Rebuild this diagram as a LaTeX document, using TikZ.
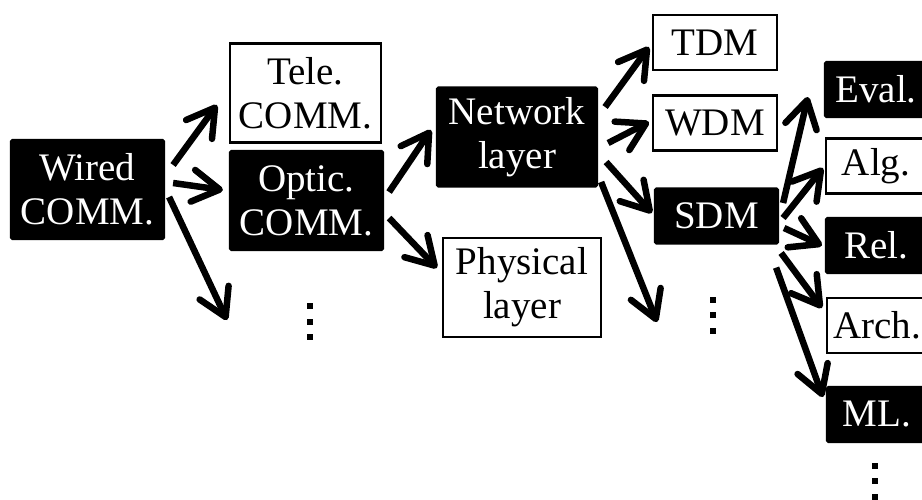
\documentclass[tikz,border=0pt]{standalone}
\usepackage{fontspec}
\setmainfont{Liberation Serif}
\usetikzlibrary{arrows.meta}
\begin{document}
\begin{tikzpicture}[x=1pt,y=-1pt,
  box/.style={draw=black, line width=2.2pt, inner sep=0pt, align=center,
    font=\fontsize{39}{44}\selectfont},
  dark/.style={box, fill=black, text=white, rounded corners=1.5pt},
  light/.style={box, fill=white},
  big/.style={minimum width=#1, minimum height=99pt},
  small/.style={minimum width=#1, minimum height=55pt},
  link/.style={line width=6.5pt, -{Straight Barb[length=27pt,width=32pt,round]}},
  vdots/.pic={\foreach \k in {-1,0,1} \fill (-3,\k*15.5-3) rectangle ++(6,6);}
]
\useasboundingbox (0,0) rectangle (922,499);

% first and second levels
\node[dark,  big=153pt] (wired) at (87.5,189.5) {Wired\\COMM.};
\node[light, big=151pt] (tele)  at (305.5,93)   {Tele.\\COMM.};
\node[dark,  big=153pt] (optic) at (306.5,200.5) {Optic.\\COMM.};

% layers
\node[dark,  big=160pt] (net)  at (517,137)   {Network\\layer};
\node[light, big=158pt] (phys) at (522,287.5) {Physical\\layer};

% multiplexing
\node[light, small=124pt] (tdm) at (715,42.5)  {TDM};
\node[light, small=124pt] (wdm) at (715,123)   {WDM};
\node[dark,  small=123pt] (sdm) at (716.5,216) {SDM};

% topics (cut by the right border)
\node[dark,  small=102pt] (eval) at (876,89.5)  {Eval.};
\node[light, small=100pt] (alg)  at (876,166)   {Alg.};
\node[dark,  small=100pt] (rel)  at (876,245.5) {Rel.};
\node[light, small=100pt] (arch) at (877,325.5) {Arch.};
\node[dark,  small=100pt] (ml)   at (877,414.5) {ML.};

% open ends of the arrows
\coordinate (wiredmore) at (227,320);
\coordinate (netmore)   at (657,322);

% continuation marks
\pic at (310,321.5) {vdots};
\pic at (713,315)   {vdots};
\pic at (875,481)   {vdots};

% arrows
\draw[link] ([shift={(8,-24.5)}]wired.east) -- ([shift={(-12,12)}]tele.west);
\draw[link] ([shift={(8,-6.5)}]wired.east)  -- ([shift={(-6,-10.5)}]optic.west);
\draw[link] ([shift={(4,7.5)}]wired.east)   -- (wiredmore);

\draw[link] ([shift={(5,-8.5)}]optic.east) -- ([shift={(-5,-7)}]net.west);
\draw[link] ([shift={(5,17.5)}]optic.east) -- ([shift={(-5,-19.5)}]phys.west);

\draw[link] ([shift={(7,-30)}]net.east) -- ([shift={(-3,4.5)}]tdm.west);
\draw[link] ([shift={(10,6)}]net.east)  -- ([shift={(-3,-1)}]wdm.west);
\draw[link] ([shift={(8,25)}]net.east)  -- ([shift={(-2,-3)}]sdm.west);
\draw[link] ([shift={(3,45)}]net.east)  -- (netmore);

\draw[link] ([shift={(4,-13)}]sdm.east) -- ([shift={(-16,7.5)}]eval.west);
\draw[link] ([shift={(4,2)}]sdm.east)   -- ([shift={(-2,2)}]alg.west);
\draw[link] ([shift={(5,12)}]sdm.east)  -- ([shift={(-3,0)}]rel.west);
\draw[link] ([shift={(2,37)}]sdm.east)  -- ([shift={(-4,-17.5)}]arch.west);
\draw[link] ([shift={(-3,23)}]sdm.south east) -- ([shift={(-3,-17.5)}]ml.west);
\end{tikzpicture}
\end{document}
